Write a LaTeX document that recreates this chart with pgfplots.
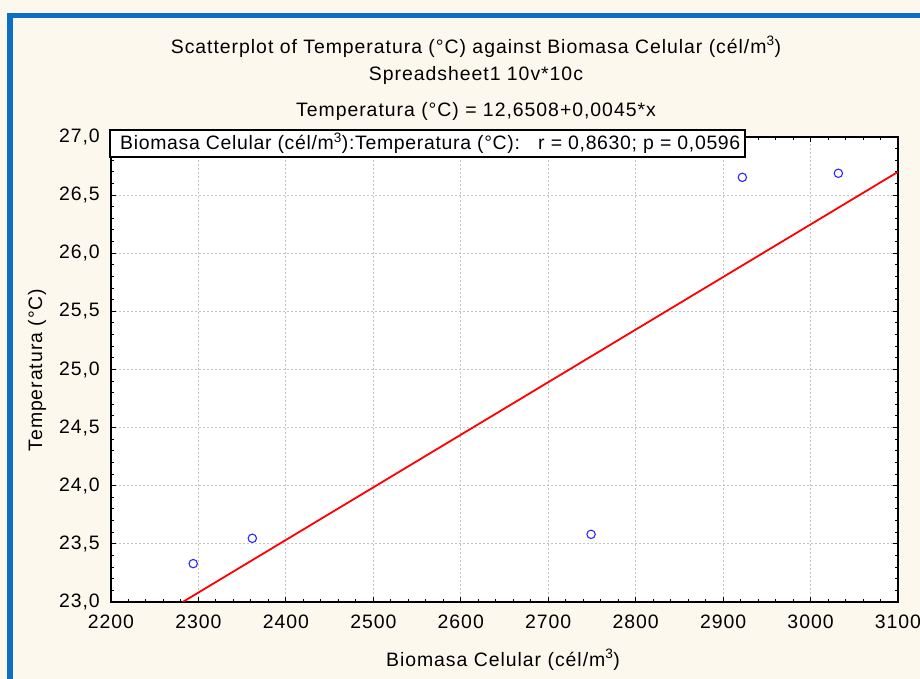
\documentclass[border=0pt]{standalone}
\usepackage{fontspec}
\setmainfont{Liberation Sans}
\usepackage{pgfplots}
\pgfplotsset{compat=1.18}
\definecolor{cream}{HTML}{FDF8EE}
\definecolor{frameblue}{HTML}{0B6FC5}
\definecolor{gridgray}{HTML}{C4C4C4}
\definecolor{ptblue}{HTML}{2828FF}
\newcommand\lbl{\fontsize{19.5}{22}\selectfont\addfontfeature{LetterSpace=5}}
\newcommand\boxlbl{\fontsize{19.5}{22}\selectfont\addfontfeature{LetterSpace=3.5}}

\begin{document}
\begin{tikzpicture}[x=1bp,y=1bp]
\useasboundingbox (-111,-77) rectangle (809,602);
\clip (-111,-77) rectangle (809,602);
\fill[cream] (-111,-77) rectangle (809,602);
\draw[frameblue, line width=5.5bp] (-101,-200) rectangle (1000,586.5);
\begin{axis}[
  scale only axis, width=787bp, height=465bp, at={(0,0)}, anchor=south west,
  xmin=2200, xmax=3100, ymin=23, ymax=27,
  xtick={2200,2300,...,3100}, ytick={23,23.5,...,27},
  minor x tick num=4, minor y tick num=4,
  axis background/.style={fill=white},
  grid=major,
  major grid style={gridgray, dash pattern=on 2bp off 2bp, line width=0.8bp},
  tick align=inside, xtick pos=both, ytick pos=both,
  xticklabel pos=left, yticklabel pos=left,
  major tick length=5bp, minor tick length=3bp,
  tick style={black, line width=1bp},
  axis line style={black, line width=1.6bp},
  /pgf/number format/assume math mode=true,
  tick label style={font=\lbl},
  xticklabel style={/pgf/number format/1000 sep={}, anchor=north, inner sep=0pt, yshift=-13bp},
  yticklabel style={/pgf/number format/.cd, fixed, fixed zerofill, precision=1, use comma, /tikz/.cd, anchor=east, inner sep=0pt, xshift=-11bp},
]
\addplot[red, line width=1.8bp, no marks] coordinates {(2282,23) (3100,26.70)};
\addplot[only marks, mark=o, mark size=4.2bp, mark options={draw=ptblue, line width=1.1bp}] table {
x y
2294 23.33
2361.6 23.548
2749 23.582
2922 26.653
3031.8 26.688
};
\end{axis}
\node[font=\lbl] at (365,555) {Scatterplot of Temperatura (°C) against Biomasa Celular (cél/m\textsuperscript{3})};
\node[font=\lbl] at (365,527) {Spreadsheet1 10v*10c};
\node[font=\lbl] at (365,491) {Temperatura (°C) = 12,6508+0,0045*x};
\draw[black, line width=2.2bp, fill=white] (-1,445) rectangle (634,472);
\node[anchor=west, inner sep=0pt, font=\boxlbl] at (9,458.5) {Biomasa Celular (cél/m\textsuperscript{3}):Temperatura (°C):\ \ \ r = 0,8630; p = 0,0596};
\node[font=\lbl, rotate=90] at (-74,232) {Temperatura (°C)};
\node[font=\lbl] at (392,-58) {Biomasa Celular (cél/m\textsuperscript{3})};
\end{tikzpicture}
\end{document}
